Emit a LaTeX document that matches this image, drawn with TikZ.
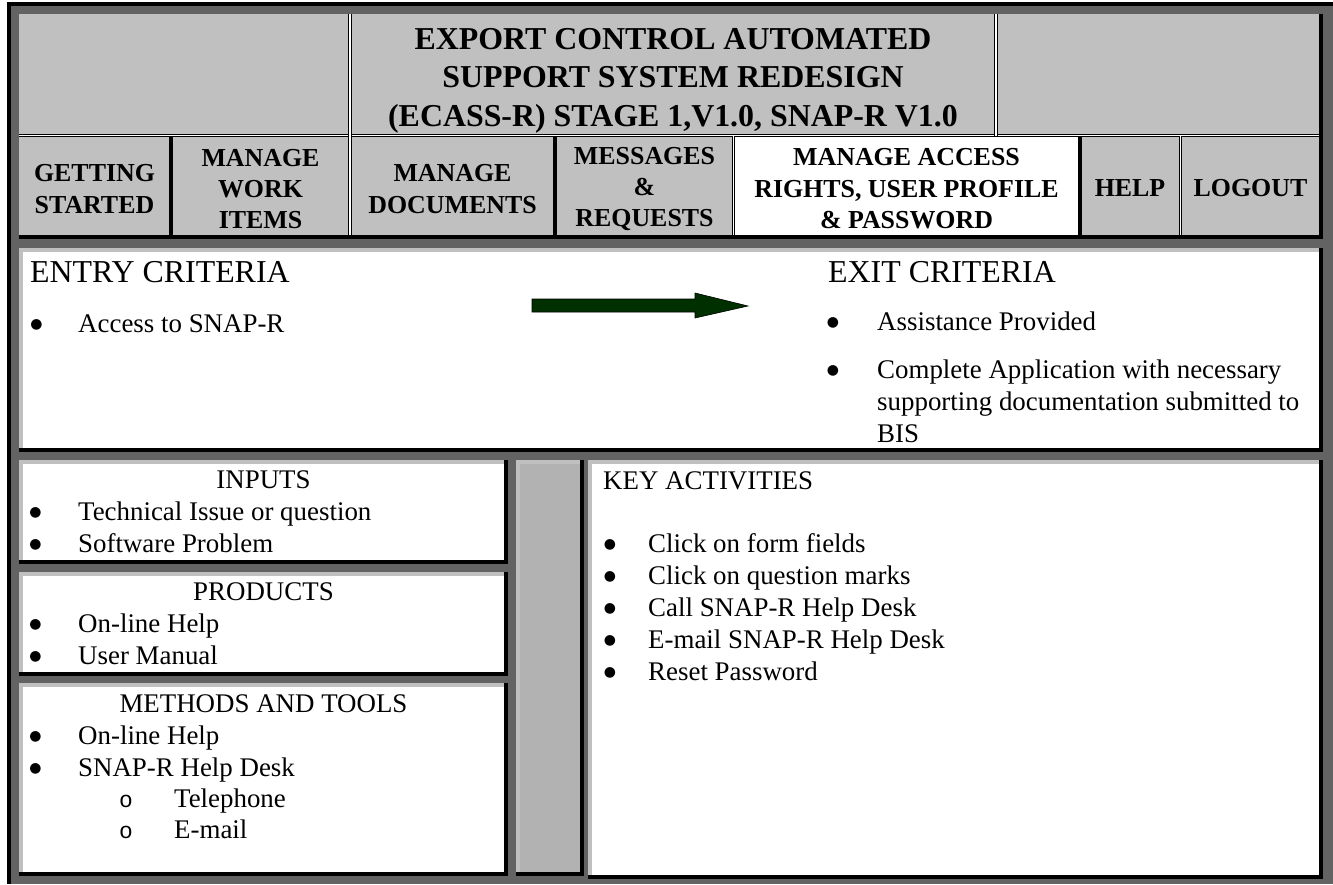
\documentclass[tikz,border=0pt]{standalone}
\usepackage{fontspec}
\setmainfont{Liberation Serif}
\newfontfamily\monofont{Liberation Mono}
\newfontfamily\symfont{DejaVu Sans}
\usepackage{tikz}
\definecolor{lgray}{HTML}{C0C0C0}
\definecolor{dgray}{HTML}{636363}
\definecolor{mgray}{HTML}{B2B2B2}
\definecolor{arrowgreen}{RGB}{0,48,0}
\newcommand{\ttlfont}{\fontsize{32}{38.5}\selectfont\bfseries}
\newcommand{\hdfont}{\fontsize{26}{31.5}\selectfont\bfseries}
\newcommand{\bodyfont}{\fontsize{27}{32}\selectfont}
\newcommand{\bigfont}{\fontsize{32}{38}\selectfont}

\begin{document}
\begin{tikzpicture}[x=1bp,y=-1bp,
	txt/.style={inner sep=0pt,anchor=base west,font=\bodyfont},
	ctxt/.style={inner sep=0pt,anchor=base,font=\bodyfont},
	bul/.style={inner sep=0pt,anchor=center,yshift=7bp,font={\fontsize{14}{14}\selectfont\symfont}},
	sub/.style={inner sep=0pt,anchor=base,font={\fontsize{23}{23}\selectfont\monofont}},
	hd/.style={inner sep=0pt,align=center,font=\hdfont},
	dbl/.style={line width=1.1bp,double=white,double distance=1.2bp},
	thk/.style={line width=4bp}]
	\useasboundingbox (0,0) rectangle (1333,884);
	\fill[white] (0,0) rectangle (1333,884);
	% outer frame
	\fill[black] (7,2) rectangle (1333,884);
	\fill[dgray] (11,6) rectangle (1333,884);
	% cells: left, top, right, bottom, fill
	\foreach \xa/\ya/\xb/\yb/\fc in {19/14/1319/235/lgray, 19/248/1319/448/white,
		19/460/504/560/white, 19/572/504/672/white, 19/683/504/872/white,
		516/460/580/872/mgray, 588/460/1319/875/white}
	{
		\fill[black] (\xa,\ya) rectangle (\xb+4,\yb+4);
		\fill[lgray] (\xa,\ya) rectangle (\xb,\yb);
		\fill[\fc] (\xa+4,\ya+4) rectangle (\xb,\yb);
	}
	\fill[white] (735,137) rectangle (1078,235);
	% header rules
	\draw[dbl] (19,135.5) -- (1319,135.5);
	\draw[dbl] (350,14) -- (350,235);
	\draw[dbl] (996,14) -- (996,135.5);
	\draw[dbl] (733.5,135.5) -- (733.5,235);
	\draw[dbl] (1180.5,135.5) -- (1180.5,235);
	\foreach \x in {171,555,1080} \draw[thk] (\x,137) -- (\x,235);

	\node[inner sep=0pt,align=center,font=\ttlfont] (title) at (673,80.5) {EXPORT CONTROL AUTOMATED\\SUPPORT SYSTEM REDESIGN\\(ECASS-R) STAGE 1,V1.0, SNAP-R V1.0};
	\node[hd] (start) at (94.5,189) {GETTING\\STARTED};
	\node[hd] (work) at (260.5,189) {MANAGE\\WORK\\ITEMS};
	\node[hd] (docs) at (452.5,189) {MANAGE\\DOCUMENTS};
	\node[hd] (msgs) at (644.5,189) {MESSAGES\\\&\\REQUESTS};
	\node[hd] (access) at (906.5,189) {MANAGE ACCESS\\RIGHTS, USER PROFILE\\\& PASSWORD};
	\node[hd] (help) at (1130,188) {HELP};
	\node[hd] (logout) at (1250.5,188) {LOGOUT};

	% entry / exit
	\node[txt,font=\bigfont] (entry) at (30,282) {ENTRY CRITERIA};
	\node[bul] (enb) at (36.5,332) {●};
	\node[txt] (en1) at (78,332) {Access to SNAP-R};
	\node[txt,font=\bigfont] (exit) at (828,282) {EXIT CRITERIA};
	\node[bul] (exb1) at (833,330) {●};
	\node[txt] (ex1) at (877,330) {Assistance Provided};
	\node[bul] (exb2) at (833,378) {●};
	\node[inner sep=0pt,anchor=north west,align=left,font=\bodyfont] (ex2) at (877,359.6) {Complete Application with necessary\\supporting documentation submitted to\\BIS};
	\filldraw[fill=arrowgreen,draw=black,line width=0.6bp] (532,299) -- (695,299) -- (695,293) -- (748,306) -- (695,318) -- (695,312) -- (532,312) -- cycle;

	% left boxes
	\node[ctxt] (inputs) at (263.5,488) {INPUTS};
	\node[bul] (ib1) at (35.5,520) {●};
	\node[txt] (i1) at (78,520) {Technical Issue or question};
	\node[bul] (ib2) at (35.5,552) {●};
	\node[txt] (i2) at (78,552) {Software Problem};
	\node[ctxt] (products) at (263.5,600) {PRODUCTS};
	\node[bul] (pb1) at (35.5,632) {●};
	\node[txt] (p1) at (78,632) {On-line Help};
	\node[bul] (pb2) at (35.5,664) {●};
	\node[txt] (p2) at (78,664) {User Manual};
	\node[ctxt] (methods) at (263.5,712) {METHODS AND TOOLS};
	\node[bul] (mb1) at (35.5,744) {●};
	\node[txt] (m1) at (78,744) {On-line Help};
	\node[bul] (mb2) at (35.5,776) {●};
	\node[txt] (m2) at (78,776) {SNAP-R Help Desk};
	\node[sub] (mb3) at (126,807) {o};
	\node[txt] (m3) at (174,807) {Telephone};
	\node[sub] (mb4) at (126,838) {o};
	\node[txt] (m4) at (174,838) {E-mail};

	% key activities
	\node[txt] (key) at (603,489) {KEY ACTIVITIES};
	\foreach \t [count=\i] in {Click on form fields,Click on question marks,Call SNAP-R Help Desk,E-mail SNAP-R Help Desk,Reset Password}
	{
		\node[bul] (kb\i) at (610,520+32*\i) {●};
		\node[txt] (k\i) at (648,520+32*\i) {\t};
	}
\end{tikzpicture}
\end{document}
